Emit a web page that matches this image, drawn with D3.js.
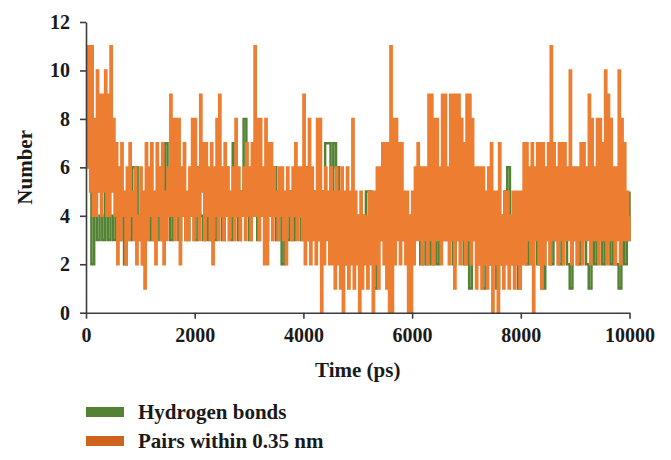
<!DOCTYPE html>
<html>
<head>
<meta charset="utf-8">
<script src="https://cdn.jsdelivr.net/npm/d3@7"></script>
<style>
  body { margin: 0; background: #fff; }
  svg text { font-family: "Liberation Serif", "Times New Roman", serif; font-weight: bold; fill: #1a1a1a; }
</style>
</head>
<body>
<div id="chart"></div>
<script>
// tick values
const xTicks = [0, 2000, 4000, 6000, 8000, 10000];
const yTicks = [0, 2, 4, 6, 8, 10, 12];
const seriesNames = ['Hydrogen bonds', 'Pairs within 0.35 nm'];

// hydrogen bonds, one value every 50 ps
const hbondStep = 50;
const hbonds = [
  6,6,2,5,3,4,3,5,3,4,
  3,5,3,4,2,5,3,6,6,3,
  4,2,5,3,4,3,5,3,4,7,
  4,3,5,4,3,5,4,3,5,4,
  3,6,4,3,5,3,4,3,5,4,
  3,6,4,3,7,4,3,5,8,4,
  3,5,4,3,5,4,3,5,4,6,
  3,5,2,4,3,5,3,4,5,3,
  4,6,3,5,4,3,5,3,7,7,
  4,7,6,3,4,2,4,3,4,3,
  4,4,3,5,5,3,1,4,3,5,
  3,4,3,5,4,4,3,4,3,4,
  3,4,5,2,4,2,5,2,4,2,
  5,3,4,3,4,2,5,3,4,2,
  5,1,4,3,2,4,1,3,2,4,
  3,1,4,2,5,6,3,2,4,1,
  3,4,2,5,3,4,2,4,1,3,
  4,2,4,3,2,4,3,2,1,4,
  3,2,4,3,2,1,4,2,3,4,
  2,3,4,2,3,2,1,4,2,3,
  5
];

// pairs within 0.35 nm, one value every 25 ps
const pairStep = 25;
const pairs = [
  11,6, 11,5, 11,4, 8,4, 10,5, 9,4, 9,5, 10,4, 9,4, 11,5,
  8,4, 7,2, 6,3, 7,4, 5,2, 6,3, 7,4, 5,3, 6,2, 4,3,
  6,2, 5,1, 7,3, 6,4, 7,3, 5,2, 7,4, 6,3, 7,2, 5,3,
  6,4, 9,4, 8,3, 8,4, 8,2, 6,4, 7,3, 5,3, 6,4, 8,3,
  8,4, 6,3, 9,5, 7,3, 7,4, 6,3, 7,2, 6,4, 8,3, 9,4,
  6,3, 7,4, 6,3, 5,4, 6,3, 8,4, 6,3, 5,4, 6,3, 7,4,
  6,3, 7,4, 11,4, 8,3, 8,4, 6,2, 8,2, 7,4, 7,3, 6,4,
  5,3, 6,4, 6,3, 5,2, 6,4, 5,3, 6,4, 7,3, 6,4, 6,3,
  9,2, 6,3, 8,2, 6,3, 5,2, 8,3, 8,0, 5,2, 6,3, 5,2,
  6,2, 5,1, 6,2, 5,1, 6,0, 5,2, 6,1, 5,2, 8,1, 5,2,
  4,0, 5,1, 4,2, 4,1, 5,2, 5,0, 5,2, 6,1, 6,3, 7,2,
  7,1, 7,0, 11,0, 8,2, 8,3, 7,2, 7,3, 5,2, 5,0, 4,0,
  5,2, 6,3, 7,3, 6,2, 6,3, 6,2, 9,3, 9,2, 8,3, 8,3,
  6,2, 9,3, 9,3, 6,2, 9,3, 9,1, 9,3, 9,2, 8,3, 7,2,
  9,3, 9,2, 8,3, 6,1, 6,2, 6,1, 6,2, 5,1, 6,2, 7,0,
  5,2, 5,0, 7,2, 4,1, 5,2, 5,1, 4,2, 5,1, 5,2, 5,1,
  5,2, 7,2, 7,3, 6,2, 7,0, 6,3, 7,2, 7,1, 7,2, 6,3,
  7,2, 11,3, 7,3, 6,2, 7,3, 7,2, 7,3, 6,3, 10,2, 6,3,
  6,2, 6,3, 7,2, 7,3, 6,3, 9,2, 8,3, 6,3, 8,2, 8,3,
  7,3, 10,2, 9,3, 8,3, 6,2, 6,3, 10,2, 8,3, 7,3, 5,3,
  4
];

const width = 671, height = 460;
const margin = { top: 22, right: 41, bottom: 147, left: 86 };
const lineColors = ['#548235', '#ED7D31'];
const keyColors = ['#548235', '#D0631C'];
const axisColor = '#3c3c3c';

const svg = d3.select('#chart')
  .append('svg')
  .attr('width', width)
  .attr('height', height);

const x = d3.scaleLinear()
  .domain([0, 10000])
  .range([margin.left, width - margin.right - 0.5]);

const y = d3.scaleLinear()
  .domain([0, 12])
  .range([height - margin.bottom - 0.3, margin.top]);

const line = d3.line()
  .x(d => x(d[0]))
  .y(d => y(d[1]))
  .curve(d3.curveStepAfter);

const hbondPts = hbonds.map((v, i) => [i * hbondStep, v]);
const pairPts = pairs.map((v, i) => [i * pairStep, v]);

svg.append('path')
  .datum(hbondPts)
  .attr('d', line)
  .attr('fill', 'none')
  .attr('stroke', lineColors[0])
  .attr('stroke-width', 2.5);

svg.append('path')
  .datum(pairPts)
  .attr('d', line)
  .attr('fill', 'none')
  .attr('stroke', lineColors[1])
  .attr('stroke-width', 2.4);

// axes
const xAxis = d3.axisBottom(x)
  .tickValues(xTicks)
  .tickFormat(d3.format('d'))
  .tickSize(6)
  .tickSizeOuter(0)
  .tickPadding(9);

const yAxis = d3.axisLeft(y)
  .tickValues(yTicks)
  .tickSize(6)
  .tickSizeOuter(0)
  .tickPadding(10);

const gx = svg.append('g')
  .attr('transform', `translate(0, ${y(0)})`)
  .call(xAxis);

const gy = svg.append('g')
  .attr('transform', `translate(${x(0)}, 0)`)
  .call(yAxis);

[gx, gy].forEach(g => {
  g.select('.domain').attr('stroke', axisColor).attr('stroke-width', 1.6);
  g.selectAll('.tick line').attr('stroke', axisColor).attr('stroke-width', 1.6);
  g.selectAll('.tick text')
    .attr('fill', '#1a1a1a')
    .style('font-size', '20px')
    .style('font-family', '"Liberation Serif", "Times New Roman", serif')
    .style('font-weight', 'bold');
});

// axis titles
svg.append('text')
  .attr('x', (x(0) + x(10000)) / 2)
  .attr('y', 377)
  .attr('text-anchor', 'middle')
  .style('font-size', '21px')
  .text('Time (ps)');

svg.append('text')
  .attr('transform', `translate(32, ${(y(0) + y(12)) / 2}) rotate(-90)`)
  .attr('text-anchor', 'middle')
  .style('font-size', '21px')
  .text('Number');

// legend
const legend = svg.append('g')
  .selectAll('g')
  .data(seriesNames)
  .enter()
  .append('g')
  .attr('transform', (d, i) => `translate(86, ${407 + i * 29})`);

legend.append('rect')
  .attr('width', 38)
  .attr('height', 10)
  .attr('fill', (d, i) => keyColors[i]);

legend.append('text')
  .attr('x', 52)
  .attr('y', 12)
  .style('font-size', '21px')
  .text(d => d);
</script>
</body>
</html>
